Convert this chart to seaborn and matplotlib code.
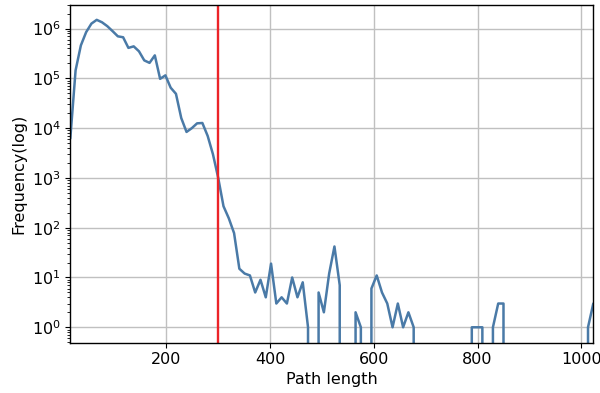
import numpy as np
import pandas as pd
import matplotlib
matplotlib.use("Agg")
import matplotlib.pyplot as plt
import seaborn as sns

# bin positions (path length) – 100 evenly spaced bins
path_length = np.linspace(15, 1023, 100)

# frequency per bin
frequency = [
    6.2e3, 1.45e5, 4.6e5, 8.5e5, 1.26e6, 1.5e6, 1.34e6, 1.12e6, 8.9e5, 7.0e5,
    6.7e5, 4.1e5, 4.4e5, 3.5e5, 2.3e5, 2.05e5, 2.9e5, 9.8e4, 1.15e5, 6.5e4,
    4.9e4, 1.6e4, 8.4e3, 1.0e4, 1.25e4, 1.27e4, 7.0e3, 3.0e3, 1.0e3, 270,
    155, 78, 15, 12, 11, 5, 9, 4, 19, 3,
    4, 3, 10, 4, 8, 1, 0, 5, 2, 12,
    42, 7, 0, 0, 2, 1, 0, 6, 11, 5,
    3, 1, 3, 1, 2, 1, 0, 0, 0, 0,
    0, 0, 0, 0, 0, 0, 1, 1, 1, 0,
    1, 3, 3, 0, 0, 0, 0, 0, 0, 0,
    0, 0, 0, 0, 0, 0, 0, 0, 1, 3,
]

threshold = 300

df = pd.DataFrame({"Path length": path_length, "Frequency": frequency})

sns.set_style("ticks")
plt.rcParams["font.family"] = ["DejaVu Sans"]
plt.rcParams.update({
    "text.color": "black",
    "axes.labelcolor": "black",
    "xtick.color": "black",
    "ytick.color": "black",
})

fig = plt.figure(figsize=(6.0, 3.93), dpi=100)
ax = fig.add_axes([70.3 / 600, 1 - 342.7 / 393, (593.3 - 70.3) / 600, (342.7 - 4.5) / 393])

sns.lineplot(data=df, x="Path length", y="Frequency", ax=ax,
             color="#4a7aa7", linewidth=1.8, estimator=None)
ax.set_yscale("log")
ax.axvline(threshold, color="#ec2328", linewidth=1.7)

ax.set_xlim(path_length[0], path_length[-1])
ax.set_ylim(0.49, 3.05e6)
ax.grid(True, color="#c0c0c0", linewidth=1.0)
ax.set_axisbelow(True)
for s in ax.spines.values():
    s.set_color("black")
    s.set_linewidth(1.0)

ax.set_xlabel("Path length", fontsize=11.5, labelpad=3)
ax.set_ylabel("Frequency(log)", fontsize=11.5, labelpad=4)
ax.tick_params(labelsize=11.5, colors="black")

fig.savefig("out.png", dpi=100)
